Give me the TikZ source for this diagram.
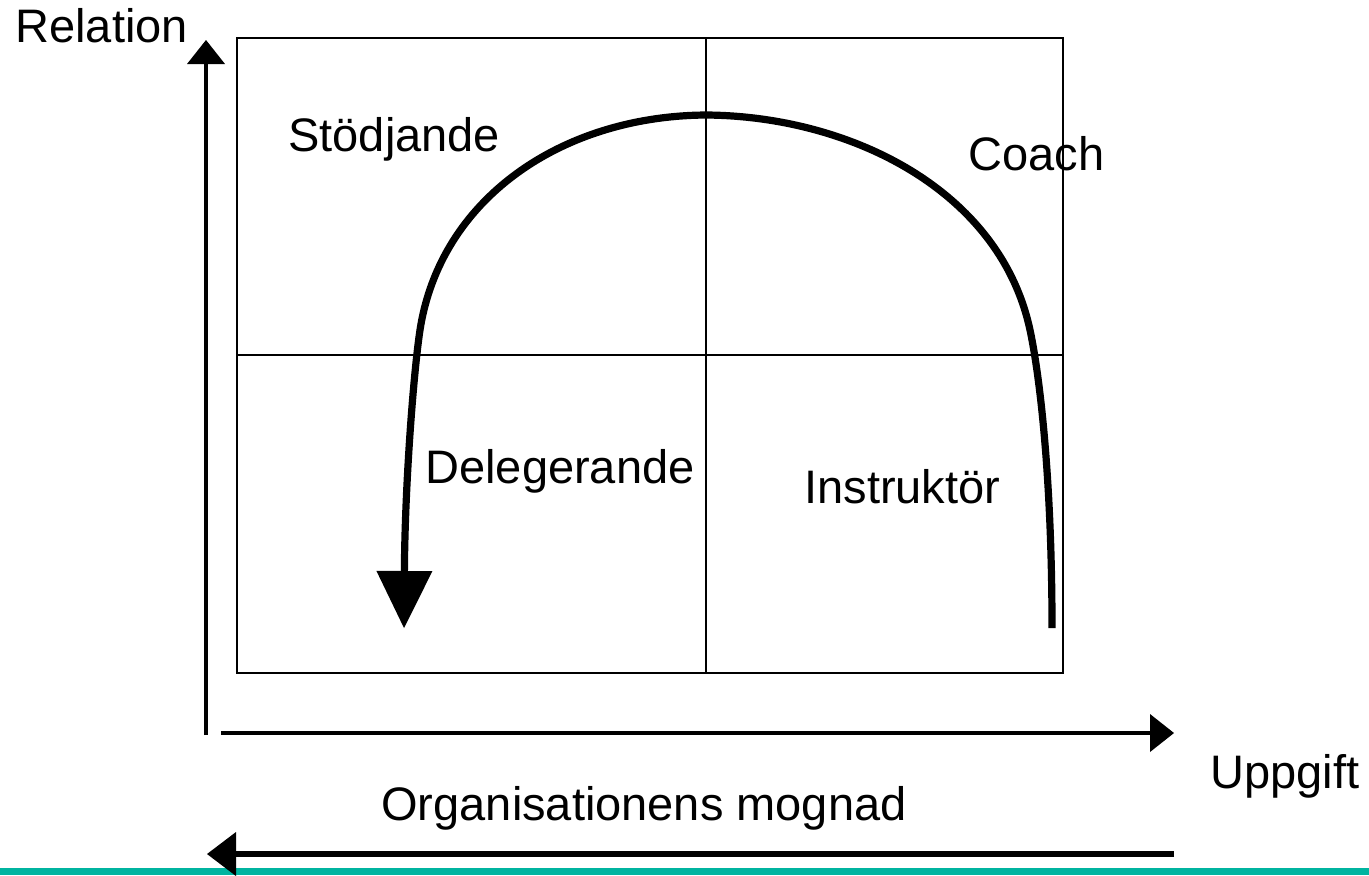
\documentclass[tikz,border=0pt]{standalone}
\usepackage{fontspec}
\setmainfont{Liberation Sans}
\usetikzlibrary{arrows.meta}
\definecolor{tealbar}{RGB}{0,180,160}
\tikzset{
  quadtext/.style={anchor=base west,inner sep=0pt,font=\fontsize{23.5}{28}\selectfont},
  boxline/.style={line width=0.9pt},
  axisarrow/.style={line width=2.1pt,-{Triangle[width=19pt,length=12pt,line width=0pt]}},
  backarrow/.style={line width=2.6pt,-{Triangle[width=22pt,length=14.5pt,line width=0pt]}},
  pathcurve/.style={line width=3.6pt,-{Triangle[width=28pt,length=28.5pt,line width=0pt]}}
}

\begin{document}
\begin{tikzpicture}[x=0.5pt,y=-0.5pt]
\useasboundingbox (0,0) rectangle (1369,875);
\fill[tealbar] (0,868) rectangle (1369,875);
% four quadrants
\draw[boxline] (237,38) rectangle (1063,673);
\draw[boxline] (706,38) -- (706,673);
\draw[boxline] (237,355) -- (1063,355);
% axes
\coordinate (ytop) at (206,40);
\coordinate (ybot) at (206,735);
\coordinate (xleft) at (221,733);
\coordinate (xright) at (1174,733);
\coordinate (mright) at (1174,854);
\coordinate (mleft) at (207,854);
\draw[axisarrow] (ybot) -- (ytop);
\draw[axisarrow] (xleft) -- (xright);
\draw[backarrow] (mright) -- (mleft);
% the curve
\coordinate (cstart) at (1052,628);
\coordinate (cright) at (1030,330);
\coordinate (ctop) at (706,115);
\coordinate (cleft) at (420,330);
\coordinate (cend) at (404,628);
\draw[pathcurve] (cstart) .. controls (1052,480) and (1040,377) .. (cright)
  .. controls (1000,190) and (850,116) .. (ctop)
  .. controls (560,116) and (440,200) .. (cleft)
  .. controls (414,369) and (405,480) .. (cend);
% texts
\node[quadtext] (rel) at (15,42) {Relation};
\node[quadtext] (upp) at (1210,788) {Uppgift};
\node[quadtext] (org) at (381,820) {Organisationens mognad};
\node[quadtext] (stod) at (288,151) {Stödjande};
\node[quadtext] (coach) at (968,170) {Coach};
\node[quadtext] (deleg) at (425,483) {Delegerande};
\node[quadtext] (instr) at (804,503) {Instruktör};
\end{tikzpicture}
\end{document}
